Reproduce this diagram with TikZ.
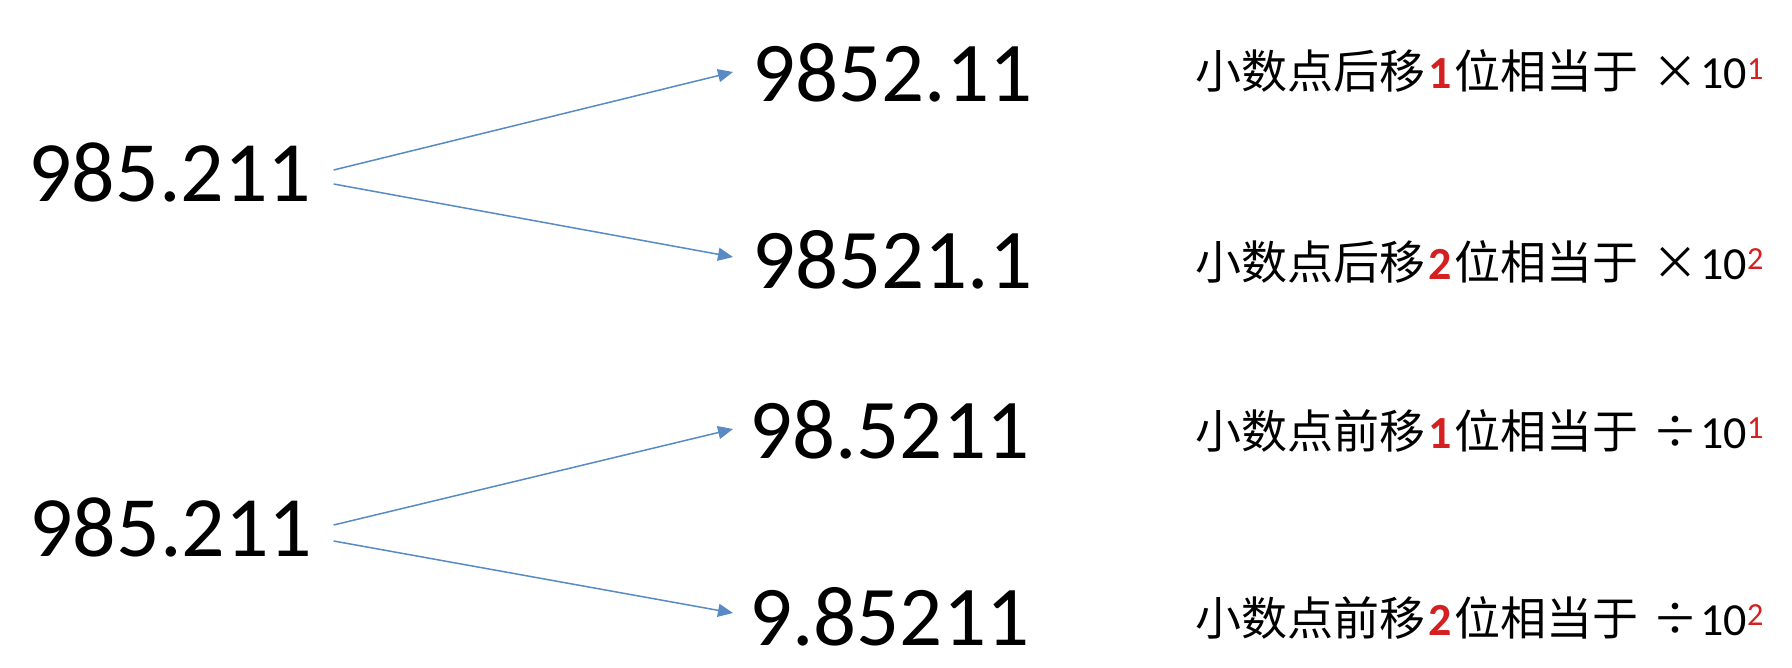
\documentclass[tikz,border=0pt]{standalone}
\usepackage{fontspec}
\setmainfont{Carlito}
\newfontfamily\cjk{Noto Sans CJK SC}
\usetikzlibrary{arrows.meta}
\definecolor{arrowblue}{RGB}{88,138,198}
\definecolor{redtxt}{RGB}{212,32,32}
\newcommand\mvline[3]{{\cjk 小数点#1移}\hspace{3pt}{\color{redtxt}\bfseries #2}\hspace{3pt}{\cjk 位相当于}\hspace{14pt}{\cjk #3}\hspace{2pt}10\textsuperscript{\color{redtxt}#2}}
\begin{document}
\begin{tikzpicture}[x=1pt,y=-1pt,
  bignum/.style={inner sep=0pt,anchor=west,font=\fontsize{86}{86}\selectfont},
  rule/.style={inner sep=0pt,anchor=base west,font=\fontsize{46}{46}\selectfont},
  conn/.style={draw=arrowblue,line width=1.5pt,-{Triangle[length=15pt,width=13pt]}}]
\useasboundingbox[fill=white] (0,0) rectangle (1792,667);
% left numbers
\node[bignum] (L1) at (28,172) {985.211};
\node[bignum] (L2) at (29,527) {985.211};
% right numbers
\node[bignum,font=\fontsize{85}{85}\selectfont] (R1) at (752,73) {9852.11};
\node[bignum,font=\fontsize{85}{85}\selectfont] (R2) at (752,260) {98521.1};
\node[bignum,font=\fontsize{85}{85}\selectfont] (R3) at (749,430) {98.5211};
\node[bignum,font=\fontsize{85}{85}\selectfont] (R4) at (749,617) {9.85211};
% rules
\node[rule] (C1) at (1195,88.5) {\mvline{后}{1}{×}};
\node[rule] (C2) at (1195,279) {\mvline{后}{2}{×}};
\node[rule] (C3) at (1195,448) {\mvline{前}{1}{÷}};
\node[rule] (C4) at (1195,635) {\mvline{前}{2}{÷}};
% connectors
\draw[conn] ([xshift=22pt,yshift=2pt]L1.east) -- ([xshift=-19pt,yshift=1pt]R1.west);
\draw[conn] ([xshift=22pt,yshift=-12pt]L1.east) -- ([xshift=-19pt,yshift=3pt]R2.west);
\draw[conn] ([xshift=21pt,yshift=2pt]L2.east) -- ([xshift=-16pt,yshift=1pt]R3.west);
\draw[conn] ([xshift=21pt,yshift=-14pt]L2.east) -- ([xshift=-16pt,yshift=4pt]R4.west);
\end{tikzpicture}
\end{document}
